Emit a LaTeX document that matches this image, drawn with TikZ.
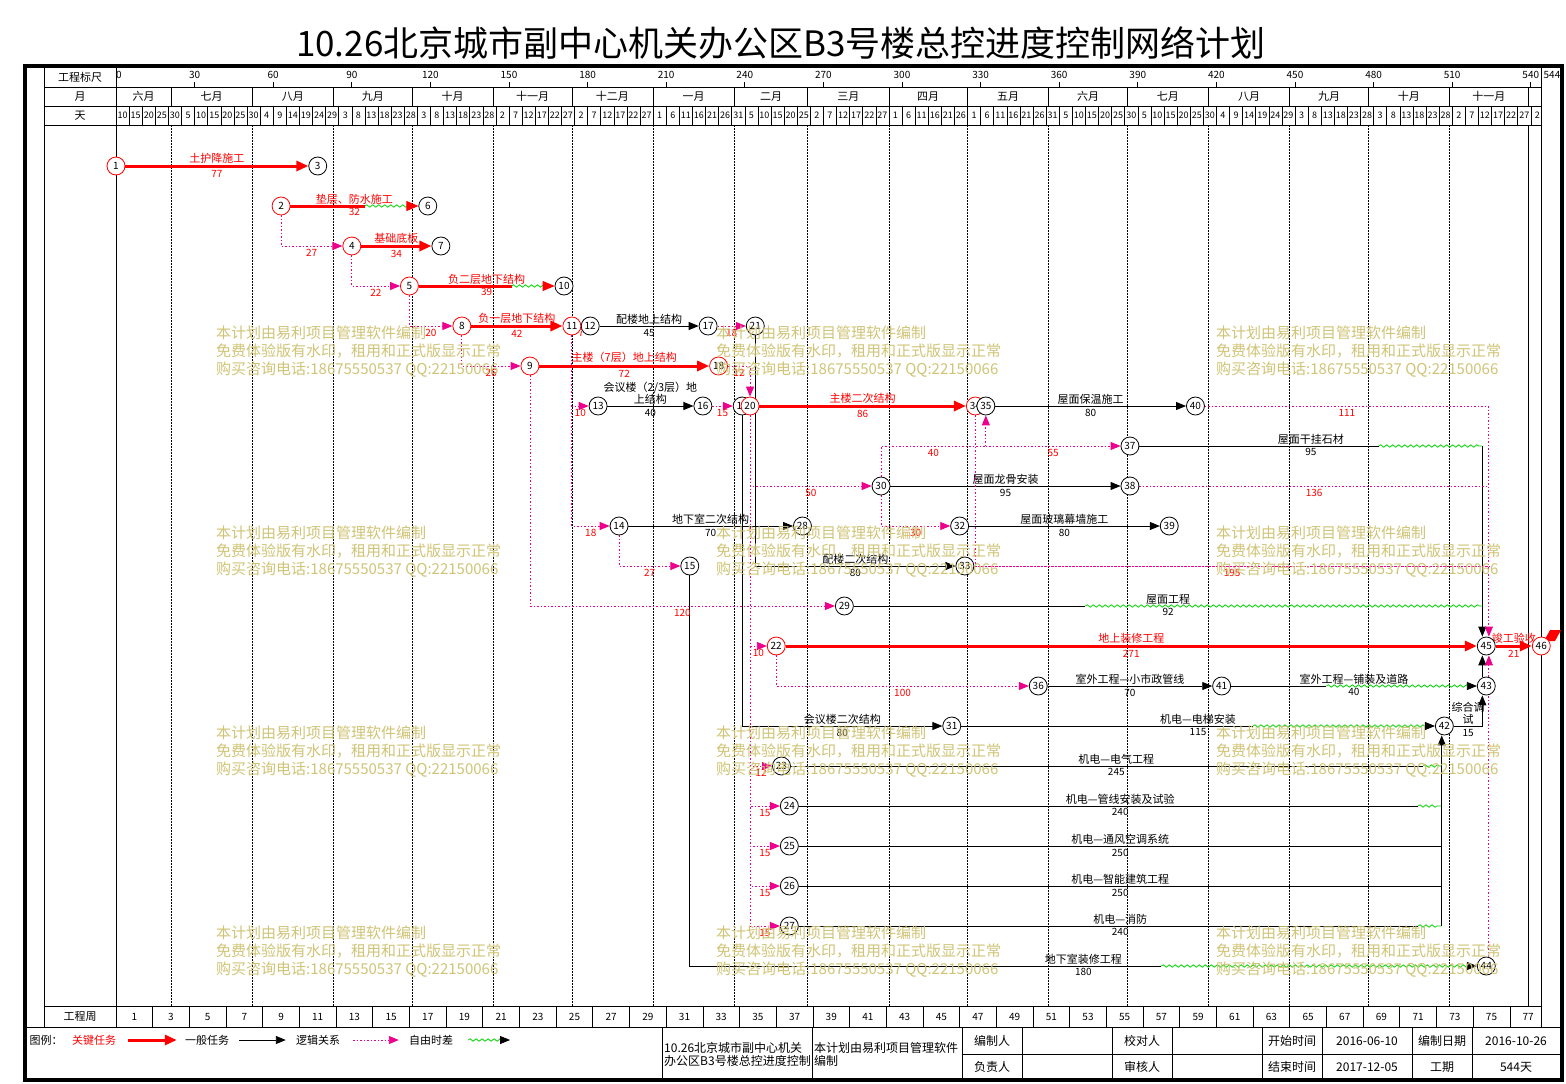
\documentclass[tikz,border=0pt]{standalone}
\usepackage{fontspec}
\setmainfont{Noto Sans CJK SC}
\usetikzlibrary{arrows.meta,decorations.pathmorphing,backgrounds}

\definecolor{floatgreen}{RGB}{0,215,0}
\definecolor{wmark}{RGB}{208,196,118}

\tikzset{
  evt/.style={circle,draw=black,fill=white,line width=0.8pt,minimum size=18pt,inner sep=0pt,font=\fontsize{10}{10}\selectfont},
  cevt/.style={evt,draw=red},
  ahd/.style={-{Triangle[length=10pt,width=8pt]}},
  ahdr/.style={-{Triangle[length=12pt,width=10pt,color=red]}},
  ahdk/.style={-{Triangle[length=10pt,width=8pt,color=black]}},
  tsk/.style={black,line width=0.9pt},
  ctsk/.style={red,line width=3pt},
  lnk/.style={magenta,line width=0.9pt,dash pattern=on 1.5pt off 2pt},
  flo/.style={floatgreen,line width=0.8pt,decorate,decoration={snake,amplitude=1.2pt,segment length=6pt,post length=2pt}},
  tname/.style={font=\fontsize{11}{12}\selectfont,inner sep=1.5pt,above},
  tdur/.style={font=\fontsize{10}{10}\selectfont,inner sep=2.5pt,below},
  lag/.style={font=\fontsize{10}{10}\selectfont,inner sep=3pt,below,text=red},
  hdtxt/.style={font=\fontsize{11}{11}\selectfont,inner sep=0pt},
  daytxt/.style={font=\fontsize{9}{9}\selectfont,inner sep=0pt},
  blk/.style={font=\fontsize{12}{13}\selectfont,inner sep=0pt},
  wm/.style={text=wmark,font=\fontsize{15}{18}\selectfont,align=left,inner sep=0pt,anchor=north west}
}

\begin{document}
\begin{tikzpicture}[x=1pt,y=-1pt]
\def\dd{2.62}
\def\xz{116}
\useasboundingbox (0,0) rectangle (1566,1084);

% frame, time scale and grid
\begin{scope}[on background layer]
\fill[white] (0,0) rectangle (1566,1084);
\draw[line width=4pt] (25,66) rectangle (1562,1080);
\draw[line width=0.8pt] (44,66) -- (44,1027) (\xz,66) -- (\xz,1027) (\xz+544*\dd,66) -- (\xz+544*\dd,1027);
\draw[line width=0.8pt] (44,87) -- (\xz+544*\dd,87) (44,106) -- (\xz+544*\dd,106) (44,125) -- (\xz+544*\dd,125)
  (44,1006) -- (\xz+544*\dd,1006) (25,1027) -- (1562,1027);
\foreach \m in {21,52,83,113,144,174,205,236,264,295,325,356,386,417,448,478,509}
  \draw[line width=0.7pt,dash pattern=on 1.5pt off 1.5pt] (\xz+\m*\dd,125) -- (\xz+\m*\dd,1006);
\draw[line width=0.8pt] (\xz+539*\dd,125) -- (\xz+539*\dd,1006);
\foreach \v in {30,60,...,540}
  \draw[line width=0.7pt] (\xz+\v*\dd,82) -- (\xz+\v*\dd,87);
\foreach \a/\b in {0/21,21/52,52/83,83/113,113/144,144/174,174/205,205/236,236/264,264/295,295/325,325/356,356/386,386/417,417/448,448/478,478/509,509/539}
  \draw[line width=0.7pt] (\xz+\b*\dd,87) -- (\xz+\b*\dd,106);
\foreach \k in {1,...,108}
  \draw[line width=0.6pt] (\xz+5*\k*\dd,106) -- (\xz+5*\k*\dd,125);
\foreach \k in {1,...,38}
  \draw[line width=0.7pt] (\xz+14*\k*\dd,1006) -- (\xz+14*\k*\dd,1027);
% title block
\draw[line width=0.8pt] (662,1027) -- (662,1080) (812,1027) -- (812,1080) (962,1027) -- (962,1080)
  (1022,1027) -- (1022,1080) (1112,1027) -- (1112,1080) (1172,1027) -- (1172,1080)
  (1262,1027) -- (1262,1080) (1322,1027) -- (1322,1080) (1412,1027) -- (1412,1080)
  (1472,1027) -- (1472,1080) (962,1054) -- (1562,1054);
\end{scope}

\node[font=\fontsize{35}{35}\selectfont] (Ttl) at (781,43) {10.26北京城市副中心机关办公区B3号楼总控进度控制网络计划};

\node[hdtxt] (Hsc) at (80,77) {工程标尺};
\node[hdtxt] (Hmo) at (80,96.5) {月};
\node[hdtxt] (Hdy) at (80,115.5) {天};
\node[hdtxt] (Hwk) at (80,1016.5) {工程周};
\node[daytxt,font=\fontsize{10}{10}\selectfont,anchor=west] (sc0) at (\xz,75) {0};
\foreach \v in {30,60,...,540}
  \node[daytxt,font=\fontsize{10}{10}\selectfont] (sc\v) at (\xz+\v*\dd,75) {\v};
\node[daytxt,font=\fontsize{10}{10}\selectfont] (sc544) at (1552,75) {544};
\foreach \a/\b/\m [count=\i] in {0/21/六月,21/52/七月,52/83/八月,83/113/九月,113/144/十月,144/174/十一月,174/205/十二月,205/236/一月,236/264/二月,264/295/三月,295/325/四月,325/356/五月,356/386/六月,386/417/七月,417/448/八月,448/478/九月,478/509/十月,509/539/十一月}
  \node[hdtxt] (mo\i) at ({\xz+(\a+\b)/2*\dd},96.5) {\m};
\foreach \d [count=\i from 0] in {10,15,20,25,30,5,10,15,20,25,30,4,9,14,19,24,29,3,8,13,18,23,28,3,8,13,18,23,28,2,7,12,17,22,27,2,7,12,17,22,27,1,6,11,16,21,26,31,5,10,15,20,25,2,7,12,17,22,27,1,6,11,16,21,26,1,6,11,16,21,26,31,5,10,15,20,25,30,5,10,15,20,25,30,4,9,14,19,24,29,3,8,13,18,23,28,3,8,13,18,23,28,2,7,12,17,22,27,2}
  \node[daytxt] (dy\i) at ({\xz+(5*\i+2.5)*\dd},115.5) {\d};
\foreach \k in {0,...,38}{
  \pgfmathtruncatemacro\wk{2*\k+1}
  \node[daytxt,font=\fontsize{10}{10}\selectfont] (wk\k) at ({\xz+(14*\k+7)*\dd},1016.5) {\wk};
}

% events
\node[cevt] (E1) at (\xz+0*\dd,166) {1};
\node[evt] (E3) at (\xz+77*\dd,166) {3};
\node[cevt] (E2) at (\xz+63*\dd,206) {2};
\node[evt] (E6) at (\xz+119*\dd,206) {6};
\node[cevt] (E4) at (\xz+90*\dd,246) {4};
\node[evt] (E7) at (\xz+124*\dd,246) {7};
\node[cevt] (E5) at (\xz+112*\dd,286) {5};
\node[evt] (E10) at (\xz+171*\dd,286) {10};
\node[cevt] (E8) at (\xz+132*\dd,326) {8};
\node[cevt] (E11) at (\xz+174*\dd,326) {11};
\node[evt] (E12) at (\xz+181*\dd,326) {12};
\node[evt] (E17) at (\xz+226*\dd,326) {17};
\node[evt] (E21) at (\xz+244*\dd,326) {21};
\node[cevt] (E9) at (\xz+158*\dd,366) {9};
\node[cevt] (E18) at (\xz+230*\dd,366) {18};
\node[evt] (E13) at (\xz+184*\dd,406) {13};
\node[evt] (E16) at (\xz+224*\dd,406) {16};
\node[evt] (E19) at (\xz+239*\dd,406) {19};
\node[cevt] (E20) at (\xz+242*\dd,406) {20};
\node[cevt] (E34) at (\xz+328*\dd,406) {34};
\node[evt] (E35) at (\xz+332*\dd,406) {35};
\node[evt] (E40) at (\xz+412*\dd,406) {40};
\node[evt] (E37) at (\xz+387*\dd,446) {37};
\node[evt] (E30) at (\xz+292*\dd,486) {30};
\node[evt] (E38) at (\xz+387*\dd,486) {38};
\node[evt] (E14) at (\xz+192*\dd,526) {14};
\node[evt] (E28) at (\xz+262*\dd,526) {28};
\node[evt] (E32) at (\xz+322*\dd,526) {32};
\node[evt] (E39) at (\xz+402*\dd,526) {39};
\node[evt] (E15) at (\xz+219*\dd,566) {15};
\node[evt] (E33) at (\xz+324*\dd,566) {33};
\node[evt] (E29) at (\xz+278*\dd,606) {29};
\node[cevt] (E22) at (\xz+252*\dd,646) {22};
\node[evt] (E45) at (\xz+523*\dd,646) {45};
\node[cevt] (E46) at (\xz+544*\dd,646) {46};
\node[evt] (E36) at (\xz+352*\dd,686) {36};
\node[evt] (E41) at (\xz+422*\dd,686) {41};
\node[evt] (E43) at (\xz+523*\dd,686) {43};
\node[evt] (E31) at (\xz+319*\dd,726) {31};
\node[evt] (E42) at (\xz+507*\dd,726) {42};
\node[evt] (E23) at (\xz+254*\dd,766) {23};
\node[evt] (E24) at (\xz+257*\dd,806) {24};
\node[evt] (E25) at (\xz+257*\dd,846) {25};
\node[evt] (E26) at (\xz+257*\dd,886) {26};
\node[evt] (E27) at (\xz+257*\dd,926) {27};
\node[evt] (E44) at (\xz+523*\dd,966) {44};

\coordinate (W2) at (\xz+95*\dd,206);
\coordinate (W5) at (\xz+151*\dd,286);
\coordinate (J37) at (\xz+332*\dd,446);
\coordinate (W37) at (\xz+482*\dd,446);
\coordinate (C37) at (\xz+521.5*\dd,446);
\coordinate (M40) at (\xz+524*\dd,406);
\coordinate (M38) at (\xz+524*\dd,486);
\coordinate (M33) at (\xz+524*\dd,566);
\coordinate (W29) at (\xz+370*\dd,606);
\coordinate (C29) at (\xz+521.5*\dd,606);
\coordinate (W41) at (\xz+462*\dd,686);
\coordinate (W31) at (\xz+434*\dd,726);
\coordinate (W23) at (\xz+499*\dd,766);
\coordinate (C23) at (\xz+506*\dd,766);
\coordinate (W24) at (\xz+497*\dd,806);
\coordinate (C24) at (\xz+506*\dd,806);
\coordinate (C25) at (\xz+506*\dd,846);
\coordinate (C26) at (\xz+506*\dd,886);
\coordinate (W27) at (\xz+497*\dd,926);
\coordinate (C27) at (\xz+506*\dd,926);
\coordinate (W15) at (\xz+399*\dd,966);

\begin{scope}[on background layer]
% critical tasks
\draw[ctsk,ahdr] (E1) -- node[tname]{土护降施工} node[tdur]{77} (E3);
\draw[ctsk] (E2) -- (W2);
\draw[flo,ahdr] (W2) -- (E6);
\path (E2) -- node[tname,text=red]{垫层、防水施工} node[tdur,text=red]{32} (E6);
\draw[ctsk,ahdr] (E4) -- node[tname]{基础底板} node[tdur]{34} (E7);
\draw[ctsk] (E5) -- (W5);
\draw[flo,ahdr] (W5) -- (E10);
\path (E5) -- node[tname,text=red]{负二层地下结构} node[tdur,text=red]{39} (E10);
\draw[ctsk,ahdr] (E8) -- node[tname]{负一层地下结构} node[tdur]{42} (E11);
\draw[ctsk,ahdr] (E9) -- node[tname]{主楼（7层）地上结构} node[tdur]{72} (E18);
\draw[ctsk,ahdr] (E20) -- node[tname]{主楼二次结构} node[tdur]{86} (E34);
\draw[ctsk,ahdr] (E22) -- node[tname]{地上装修工程} node[tdur]{271} (E45);
\draw[ctsk,ahdr] (E45) -- node[tname]{竣工验收} node[tdur]{21} (E46);
\fill[red] (1544,641) -- (1550,630) -- (1561,630) -- (1555,641) -- cycle;

% general tasks
\draw[tsk,ahd] (E12) -- node[tname]{配楼地上结构} node[tdur]{45} (E17);
\draw[tsk,ahd] (E13) -- node[tname,align=center]{会议楼（2/3层）地\\上结构} node[tdur]{40} (E16);
\draw[tsk,ahd] (E14) -- node[tname]{地下室二次结构} node[tdur]{70} (E28);
\draw[tsk,ahd] (E21) |- node[tname,pos=0.75]{配楼二次结构} node[tdur,pos=0.75]{80} (E33);
\draw[tsk,ahd] (E19) |- node[tname,pos=0.75]{会议楼二次结构} node[tdur,pos=0.75]{80} (E31);
\draw[tsk,ahd] (E35) -- node[tname]{屋面保温施工} node[tdur]{80} (E40);
\draw[tsk] (E37) -- (W37);
\draw[flo] (W37) -- (C37);
\draw[tsk,ahd] (C37) -- (E45.north -| C37);
\path (E37) -- node[tname]{屋面干挂石材} node[tdur]{95} (C37);
\draw[tsk,ahd] (E30) -- node[tname]{屋面龙骨安装} node[tdur]{95} (E38);
\draw[tsk,ahd] (E32) -- node[tname]{屋面玻璃幕墙施工} node[tdur]{80} (E39);
\draw[tsk] (E29) -- (W29);
\draw[flo] (W29) -- (C29);
\path (E29) -- node[tname]{屋面工程} node[tdur]{92} (C29);
\draw[tsk,ahd] (E36) -- node[tname]{室外工程—小市政管线} node[tdur]{70} (E41);
\draw[tsk] (E41) -- (W41);
\draw[flo,ahdk] (W41) -- (E43);
\path (E41) -- node[tname]{室外工程—铺装及道路} node[tdur]{40} (E43);
\draw[tsk,ahd] (E42) -| node[tname,pos=0.25,align=center]{综合调\\试} node[tdur,pos=0.25]{15} (E43.south -| C37);
\draw[tsk,ahd] (E43.north -| C37) -- (E45.south -| C37);
\draw[tsk] (E31) -- (W31);
\draw[flo,ahdk] (W31) -- (E42);
\path (E31) -- node[tname]{机电—电梯安装} node[tdur]{115} (E42);
\draw[tsk] (E23) -- (W23);
\draw[flo] (W23) -- (C23);
\path (E23) -- node[tname]{机电—电气工程} node[tdur]{245} (C23);
\draw[tsk] (E24) -- (W24);
\draw[flo] (W24) -- (C24);
\path (E24) -- node[tname]{机电—管线安装及试验} node[tdur]{240} (C24);
\draw[tsk] (E25) -- node[tname]{机电—通风空调系统} node[tdur]{250} (C25);
\draw[tsk] (E26) -- node[tname]{机电—智能建筑工程} node[tdur]{250} (C26);
\draw[tsk] (E27) -- (W27);
\draw[flo] (W27) -- (C27);
\path (E27) -- node[tname]{机电—消防} node[tdur]{240} (C27);
\draw[tsk,ahd] (C27) -- (E42.south -| C27);
\draw[tsk] (E15) |- (W15);
\draw[flo,ahdk] (W15) -- (E44);
\path (E15 |- E44) -- node[tname]{地下室装修工程} node[tdur]{180} (E44);

% logic links
\draw[lnk,ahd] (E2) |- node[lag,pos=0.75]{27} (E4);
\draw[lnk,ahd] (E4) |- node[lag,pos=0.75]{22} (E5);
\draw[lnk,ahd] (E5) |- node[lag,pos=0.75]{20} (E8);
\draw[lnk,ahd] (E8) |- node[lag,pos=0.75]{26} (E9);
\draw[lnk,ahd] (E9) |- node[lag,pos=0.75]{120} (E29);
\draw[lnk,ahd] (E11) -- node[lag]{7} (E12);
\draw[lnk,ahd] (E11) |- node[lag,pos=0.75]{10} (E13);
\draw[lnk,ahd] (E11) |- node[lag,pos=0.75]{18} (E14);
\draw[lnk,ahd] (E14) |- node[lag,pos=0.75]{27} (E15);
\draw[lnk,ahd] (E17) -- node[lag]{18} (E21);
\draw[lnk,ahd] (E18) -| node[lag,pos=0.25]{12} (E20);
\draw[lnk,ahd] (E16) -- node[lag]{15} (E19);
\draw[lnk,ahd] (E20) |- node[lag,pos=0.75]{50} (E30);
\draw[lnk,ahd] (E20) |- node[lag,pos=0.75]{10} (E22);
\draw[lnk,ahd] (E20) |- node[lag,pos=0.75]{12} (E23);
\draw[lnk,ahd] (E20) |- node[lag,pos=0.75]{15} (E24);
\draw[lnk,ahd] (E20) |- node[lag,pos=0.75]{15} (E25);
\draw[lnk,ahd] (E20) |- node[lag,pos=0.75]{15} (E26);
\draw[lnk,ahd] (E20) |- node[lag,pos=0.75]{15} (E27);
\draw[lnk,ahd] (E30) |- node[lag,pos=0.75]{30} (E32);
\draw[lnk] (E30) |- node[lag,pos=0.75]{40} (J37);
\draw[lnk,ahd] (J37) -- (E35);
\draw[lnk,ahd] (J37) -- node[lag]{55} (E37);
\draw[lnk] (E34) |- node[lag,pos=0.75]{195} (M33);
\draw[lnk] (E33) -- (M33);
\draw[lnk] (E38) -- node[lag]{136} (M38);
\draw[lnk] (E40) -- node[lag]{111} (M40);
\draw[lnk,ahd] (M40) -- (E45.north -| M40);
\draw[lnk,ahd] (E22) |- node[lag,pos=0.75]{100} (E36);
\draw[lnk,ahd] (E44.north -| M40) -- (E45.south -| M40);
\end{scope}

% legend and title block
\node[blk,font=\fontsize{11}{11}\selectfont] (Lg0) at (46,1040) {图例：};
\node[blk,font=\fontsize{11}{11}\selectfont,text=red] (LgA) at (94,1040) {关键任务};
\node[blk,font=\fontsize{11}{11}\selectfont] (LgB) at (207,1040) {一般任务};
\node[blk,font=\fontsize{11}{11}\selectfont] (LgC) at (318,1040) {逻辑关系};
\node[blk,font=\fontsize{11}{11}\selectfont] (LgD) at (431,1040) {自由时差};
\coordinate (LgE) at (510,1040);
\draw[ctsk,ahdr] ([xshift=12pt]LgA.east) -- ([xshift=-8pt]LgB.west);
\draw[tsk,ahd] ([xshift=10pt]LgB.east) -- ([xshift=-10pt]LgC.west);
\draw[lnk,ahd] ([xshift=13pt]LgC.east) -- ([xshift=-10pt]LgD.west);
\draw[flo,ahdk] ([xshift=15pt]LgD.east) -- (LgE);

\node[blk,anchor=west] (Bt1) at (664,1048) {10.26北京城市副中心机关};
\node[blk,anchor=west] (Bt2) at (664,1061) {办公区B3号楼总控进度控制};
\node[blk,anchor=west] (Bs1) at (814,1048) {本计划由易利项目管理软件};
\node[blk,anchor=west] (Bs2) at (814,1061) {编制};
\node[blk] (Bc1) at (992,1041) {编制人};
\node[blk] (Bc2) at (992,1067) {负责人};
\node[blk] (Bd1) at (1142,1041) {校对人};
\node[blk] (Bd2) at (1142,1067) {审核人};
\node[blk] (Be1) at (1292,1041) {开始时间};
\node[blk] (Be2) at (1292,1067) {结束时间};
\node[blk] (Bf1) at (1367,1041) {2016-06-10};
\node[blk] (Bf2) at (1367,1067) {2017-12-05};
\node[blk] (Bg1) at (1442,1041) {编制日期};
\node[blk] (Bg2) at (1442,1067) {工期};
\node[blk] (Bh1) at (1516,1041) {2016-10-26};
\node[blk] (Bh2) at (1516,1067) {544天};

% watermark
\foreach \wx in {216,716,1216}
  \foreach \wy in {326,526,726,926}
    \node[wm] (wm-\wx-\wy) at (\wx,\wy) {本计划由易利项目管理软件编制\\免费体验版有水印，租用和正式版显示正常\\购买咨询电话:18675550537 QQ:22150066};
\end{tikzpicture}
\end{document}
